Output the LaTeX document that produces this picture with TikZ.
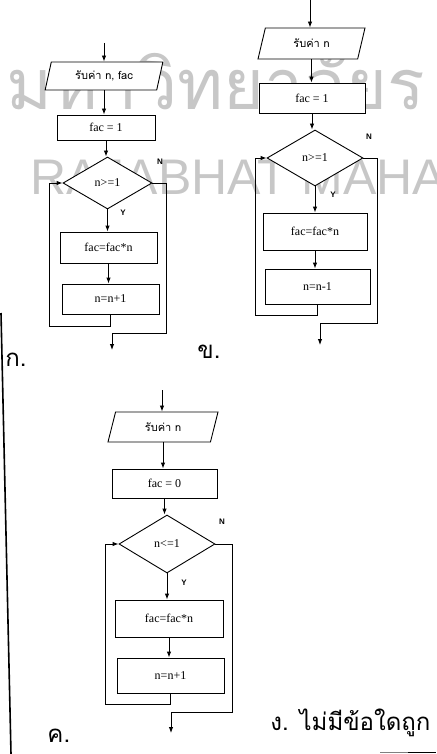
\documentclass[tikz,border=0pt]{standalone}
\usepackage{fontspec}
\setmainfont{Liberation Serif}
\newfontfamily\thaifont[Script=Thai]{Loma}
\newfontfamily\wmsans{Liberation Sans}
\usetikzlibrary{shapes.geometric,arrows.meta}
\begin{document}
\begin{tikzpicture}[x=1pt,y=-1pt,line width=0.9pt,
  box/.style={draw, fill=white, rectangle, inner sep=0pt, font=\fontsize{12}{12}\selectfont},
  io/.style={draw, fill=white, trapezium, trapezium left angle=72, trapezium right angle=108, trapezium stretches=true, inner sep=0pt, font=\thaifont\fontsize{11}{11}\selectfont},
  dec/.style={draw, fill=white, diamond, inner sep=0pt, font=\fontsize{12}{12}\selectfont},
  arr/.style={-{Latex[length=6pt,width=4.5pt]}},
  yn/.style={font=\wmsans\bfseries\fontsize{8}{8}\selectfont},
  big/.style={font=\thaifont\fontsize{24}{24}\selectfont, inner sep=0pt},
  wm/.style={text=black!22, inner sep=0pt}
]
\useasboundingbox (0,0) rectangle (436,754);
% watermark
\begin{scope}
\clip (0,0) rectangle (436,754);
\node[wm, anchor=base west, font=\thaifont\fontsize{70}{70}\selectfont] (wm1) at (6,110) {มหาวิทยาลัยร};
\node[wm, anchor=base west, font=\wmsans\fontsize{50}{50}\selectfont] (wm2) at (30,194) {RAJABHAT MAHA};
\end{scope}

% ---------- chart A ----------
\coordinate (a0) at (104,43);
\node[io, minimum width=118pt, minimum height=28pt] (pa) at (104,76) {รับค่า n, fac};
\node[box, minimum width=98pt, minimum height=25pt] (ra) at (106,127.5) {fac = 1};
\node[dec, minimum width=89pt, minimum height=52pt] (da) at (107.5,183) {n>=1};
\node[box, minimum width=97pt, minimum height=31pt] (rb) at (108.5,247.5) {fac=fac*n};
\node[box, minimum width=97pt, minimum height=30pt] (rc) at (110.5,299) {n=n+1};
\coordinate (aend) at (112,350);
\draw[arr] (a0) -- (pa.north -| a0);
\draw[arr] (pa.south) -- (pa.south |- ra.north);
\draw[arr] (ra.south) -- (ra.south |- da.north);
\draw[arr] (da.south) -- (da.south |- rb.north);
\draw[arr] (rb.south) -- (rb.south |- rc.north);
\draw (da.east) -- (166,183) -- (166,333) -- (112,333);
\draw[arr] (112,333) -- (aend);
\draw[arr] (rc.south) -- (110.5,326) -- (49,326) -- (49,183) -- (da.west);
\node[yn] (na) at (160,162) {N};
\node[yn] (ya) at (123,213) {Y};

% ---------- chart B ----------
\coordinate (b0) at (310,0);
\node[io, minimum width=107pt, minimum height=31pt] (pb) at (311.5,43.5) {รับค่า n};
\node[box, minimum width=106pt, minimum height=30pt] (rb1) at (312,98) {fac = 1};
\node[dec, minimum width=96pt, minimum height=56pt] (db) at (315,158) {n>=1};
\node[box, minimum width=104pt, minimum height=37pt] (rb2) at (315,231.5) {fac=fac*n};
\node[box, minimum width=105pt, minimum height=35pt] (rb3) at (317.5,286.5) {n=n-1};
\coordinate (bend) at (320,345);
\draw[arr] (b0) -- (pb.north -| b0);
\draw[arr] (pb.south) -- (pb.south |- rb1.north);
\draw[arr] (rb1.south) -- (rb1.south |- db.north);
\draw[arr] (db.south) -- (db.south |- rb2.north);
\draw[arr] (rb2.south) -- (rb2.south |- rb3.north);
\draw (db.east) -- (377,158) -- (377,323) -- (320,323);
\draw[arr] (320,323) -- (bend);
\draw[arr] (rb3.south) -- (317.5,315) -- (255,315) -- (255,158) -- (db.west);
\node[yn] (nb) at (369,137) {N};
\node[yn] (yb) at (333,195) {Y};

% ---------- chart C ----------
\coordinate (c0) at (162,390);
\node[io, minimum width=110pt, minimum height=30pt] (pc) at (163,427) {รับค่า n};
\node[box, minimum width=105pt, minimum height=29pt] (rc1) at (164.5,483.5) {fac = 0};
\node[dec, minimum width=96pt, minimum height=58pt] (dc) at (167,544) {n<=1};
\node[box, minimum width=108pt, minimum height=37pt] (rc2) at (169,618.5) {fac=fac*n};
\node[box, minimum width=107pt, minimum height=35pt] (rc3) at (170.5,675.5) {n=n+1};
\coordinate (cend) at (171,733);
\draw[arr] (c0) -- (pc.north -| c0);
\draw[arr] (pc.south) -- (pc.south |- rc1.north);
\draw[arr] (rc1.south) -- (rc1.south |- dc.north);
\draw[arr] (dc.south) -- (dc.south |- rc2.north);
\draw[arr] (rc2.south) -- (rc2.south |- rc3.north);
\draw (dc.east) -- (232,544) -- (232,712) -- (171,712);
\draw[arr] (171,712) -- (cend);
\draw[arr] (rc3.south) -- (170.5,704) -- (105,704) -- (105,544) -- (dc.west);
\node[yn] (nc) at (222,522) {N};
\node[yn] (yc) at (184,583) {Y};

% ---------- labels ----------
\node[big, anchor=base west] (la) at (5,366) {ก.};
\node[big, anchor=base west] (lb) at (197,358) {ข.};
\node[big, anchor=base west] (lc) at (47,742) {ค.};
\node[big, anchor=base west] (ld) at (270,730) {ง. ไม่มีข้อใดถูก};

% page edge lines
\coordinate (e1) at (1,313);
\coordinate (e2) at (11,754);
\draw[line width=1.6pt] (e1) -- (e2);
\coordinate (f1) at (380,752.5);
\coordinate (f2) at (408,752.5);
\coordinate (f3) at (436,752.5);
\draw[gray] (f1) -- (f2);
\draw[line width=1.2pt] (f2) -- (f3);
\end{tikzpicture}
\end{document}
